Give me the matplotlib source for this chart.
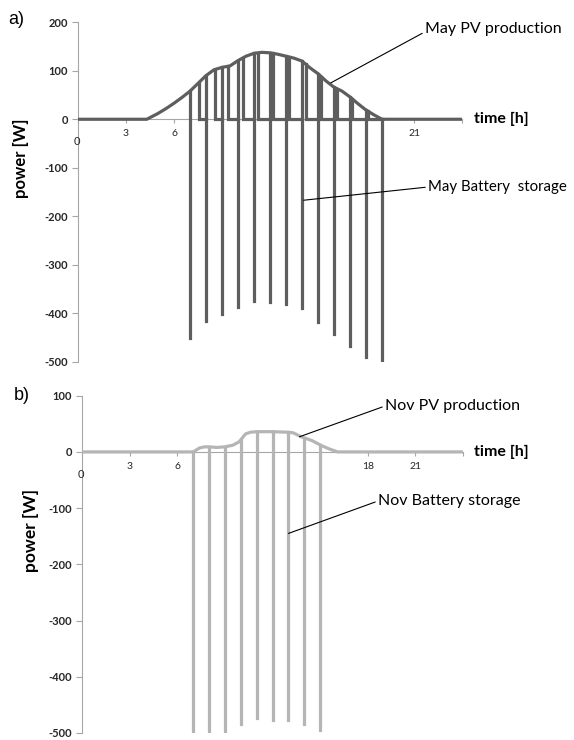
import numpy as np
import matplotlib
matplotlib.use("Agg")
import matplotlib.pyplot as plt

plt.rcParams["font.family"] = ["Lato", "DejaVu Sans"]

# ---------------------------------
# Data
# ---------------------------------
# a) May
may_pv_hours = [0, 4.3, 5.0, 5.5, 6.0, 6.5, 7.0, 7.5, 8.0, 8.5, 9.0, 9.5, 10.0, 10.5,
                11.0, 11.5, 12.0, 12.5, 13.0, 13.5, 14.0, 14.5, 15.0, 15.5, 16.0,
                16.5, 17.0, 17.5, 18.0, 18.5, 19.0, 24]
may_pv_power = [0, 0, 12, 22, 33, 45, 58, 74, 90, 102, 107, 110, 121, 130,
                136, 138, 137, 134, 130, 126, 120, 106, 94, 79, 66,
                58, 46, 32, 19, 9, 0, 0]
may_batt_hours = [7, 8, 9, 10, 11, 12, 13, 14, 15, 16, 17, 18, 19]
may_batt_power = [-451, -416, -401, -388, -374, -376, -380, -390, -419, -442, -467, -491, -500]
may_charge_end = [7.55, 8.55, 9.4, 10.3, 11.25, 12.2, 13.2, 14.25, 15.2, 16.2, 17.15, 18.1]

# b) November
nov_pv_hours = [0, 7.0, 7.4, 7.7, 8.0, 8.5, 9.0, 9.5, 9.9, 10.3, 10.6, 11.0, 12.0,
                13.0, 13.3, 13.8, 14.5, 15.1, 15.6, 16.1, 24]
nov_pv_power = [0, 0, 7, 9, 9, 8, 9, 12, 18, 32, 35, 36, 36,
                35, 34, 27, 20, 11, 5, 0, 0]
nov_batt_hours = [7, 8, 9, 10, 11, 12, 13, 14, 15]
nov_batt_power = [-500, -499, -497, -484, -474, -476, -476, -484, -495]

x_ticks = [0, 3, 6, 9, 12, 15, 18, 21, 24]
may_x_labels = ["", "3", "6", "", "", "", "", "21", ""]
nov_x_labels = ["", "3", "6", "", "", "", "18", "21", ""]
may_y_ticks = [200, 100, 0, -100, -200, -300, -400, -500]
nov_y_ticks = [100, 0, -100, -200, -300, -400, -500]

MAY_COLOR = "#5e5e5e"
NOV_COLOR = "#b5b5b5"
AXIS_COLOR = "#a6a6a6"
TEXT_COLOR = "#262626"


def style_axes(ax, x_labels, y_ticks):
    ax.set_xlim(0, 24)
    ax.set_ylim(y_ticks[-1], y_ticks[0])
    for side in ("top", "right"):
        ax.spines[side].set_visible(False)
    ax.spines["bottom"].set_position(("data", 0))
    ax.spines["bottom"].set_color(AXIS_COLOR)
    ax.spines["left"].set_color(AXIS_COLOR)
    ax.set_xticks(x_ticks)
    ax.set_xticklabels(x_labels)
    ax.set_yticks(y_ticks)
    ax.set_yticklabels([str(v) for v in y_ticks])
    ax.tick_params(axis="x", direction="out", length=3, color=AXIS_COLOR,
                   labelsize=7.5, labelcolor=TEXT_COLOR, pad=4)
    ax.tick_params(axis="y", direction="out", length=4, color=AXIS_COLOR,
                   labelsize=8, labelcolor=TEXT_COLOR, pad=3)
    for lab in ax.get_yticklabels():
        lab.set_fontweight("bold")
    # stray "0" label below the origin
    ax.annotate("0", xy=(0, 0), xytext=(-1, -16), textcoords="offset points",
                ha="center", va="center", fontsize=8, color=TEXT_COLOR)


fig = plt.figure(figsize=(5.74, 7.4), dpi=100)

# ---------------------------------
# a) May
# ---------------------------------
ax1 = fig.add_axes([0.1359, 0.5112, 0.669, 0.4587])
style_axes(ax1, may_x_labels, may_y_ticks)
lw = 2.3
ax1.plot(may_pv_hours, may_pv_power, color=MAY_COLOR, lw=lw,
         solid_joinstyle="round", solid_capstyle="butt", zorder=3)
for i, (t, b) in enumerate(zip(may_batt_hours, may_batt_power)):
    top = np.interp(t, may_pv_hours, may_pv_power)
    ax1.plot([t, t], [b, top], color=MAY_COLOR, lw=lw, zorder=3)
    if i < len(may_charge_end):
        e = may_charge_end[i]
        pe = np.interp(e, may_pv_hours, may_pv_power)
        ax1.plot([e, e, may_batt_hours[i + 1]], [pe, 0, 0], color=MAY_COLOR,
                 lw=lw, solid_joinstyle="miter", zorder=3)

ax1.text(1.03, 0, "time [h]", transform=ax1.get_yaxis_transform(),
         ha="left", va="center", fontsize=11.5, fontweight="bold", color="black")
ax1.set_ylabel("power [W]", fontsize=12, fontweight="bold")
ax1.yaxis.set_label_coords(-0.128, 0.6)

ax1.annotate("May PV production", xy=(15.8, 75), xycoords="data",
             xytext=(425 / 574, 1 - 29 / 740), textcoords="figure fraction",
             ha="left", va="center", fontsize=11.5, color="black",
             arrowprops=dict(arrowstyle="-", color="black", lw=0.8,
                             shrinkA=0, shrinkB=0, relpos=(0, 0.3)))
ax1.annotate("May Battery  storage", xy=(14.1, -167), xycoords="data",
             xytext=(428 / 574, 1 - 187 / 740), textcoords="figure fraction",
             ha="left", va="center", fontsize=10.8, color="black",
             arrowprops=dict(arrowstyle="-", color="black", lw=0.8,
                             shrinkA=0, shrinkB=0, relpos=(0, 0.5)))

# ---------------------------------
# b) November
# ---------------------------------
ax2 = fig.add_axes([0.1429, 0.00946, 0.6638, 0.4558])
style_axes(ax2, nov_x_labels, nov_y_ticks)
ax2.plot(nov_pv_hours, nov_pv_power, color=NOV_COLOR, lw=lw,
         solid_joinstyle="round", zorder=3)
for t, b in zip(nov_batt_hours, nov_batt_power):
    top = np.interp(t, nov_pv_hours, nov_pv_power)
    ax2.plot([t, t], [b, top], color=NOV_COLOR, lw=lw, zorder=3)

ax2.text(1.03, 0, "time [h]", transform=ax2.get_yaxis_transform(),
         ha="left", va="center", fontsize=11.5, fontweight="bold", color="black")
ax2.set_ylabel("power [W]", fontsize=12.5, fontweight="bold")
ax2.yaxis.set_label_coords(-0.112, 0.6)

ax2.annotate("Nov PV production", xy=(13.7, 27), xycoords="data",
             xytext=(385 / 574, 1 - 406 / 740), textcoords="figure fraction",
             ha="left", va="center", fontsize=11.5, color="black",
             arrowprops=dict(arrowstyle="-", color="black", lw=0.8,
                             shrinkA=0, shrinkB=0, relpos=(0, 0.5)))
ax2.annotate("Nov Battery storage", xy=(13.0, -145), xycoords="data",
             xytext=(378 / 574, 1 - 501 / 740), textcoords="figure fraction",
             ha="left", va="center", fontsize=11.5, color="black",
             arrowprops=dict(arrowstyle="-", color="black", lw=0.8,
                             shrinkA=0, shrinkB=0, relpos=(0, 0.5)))

# panel letters
fig.text(8 / 574, 1 - 20 / 740, "a)", ha="left", va="center", fontsize=13,
         family=["Liberation Sans", "DejaVu Sans"])
fig.text(14 / 574, 1 - 395 / 740, "b)", ha="left", va="center", fontsize=13,
         family=["Liberation Sans", "DejaVu Sans"])

fig.savefig("out.png", dpi=100)
